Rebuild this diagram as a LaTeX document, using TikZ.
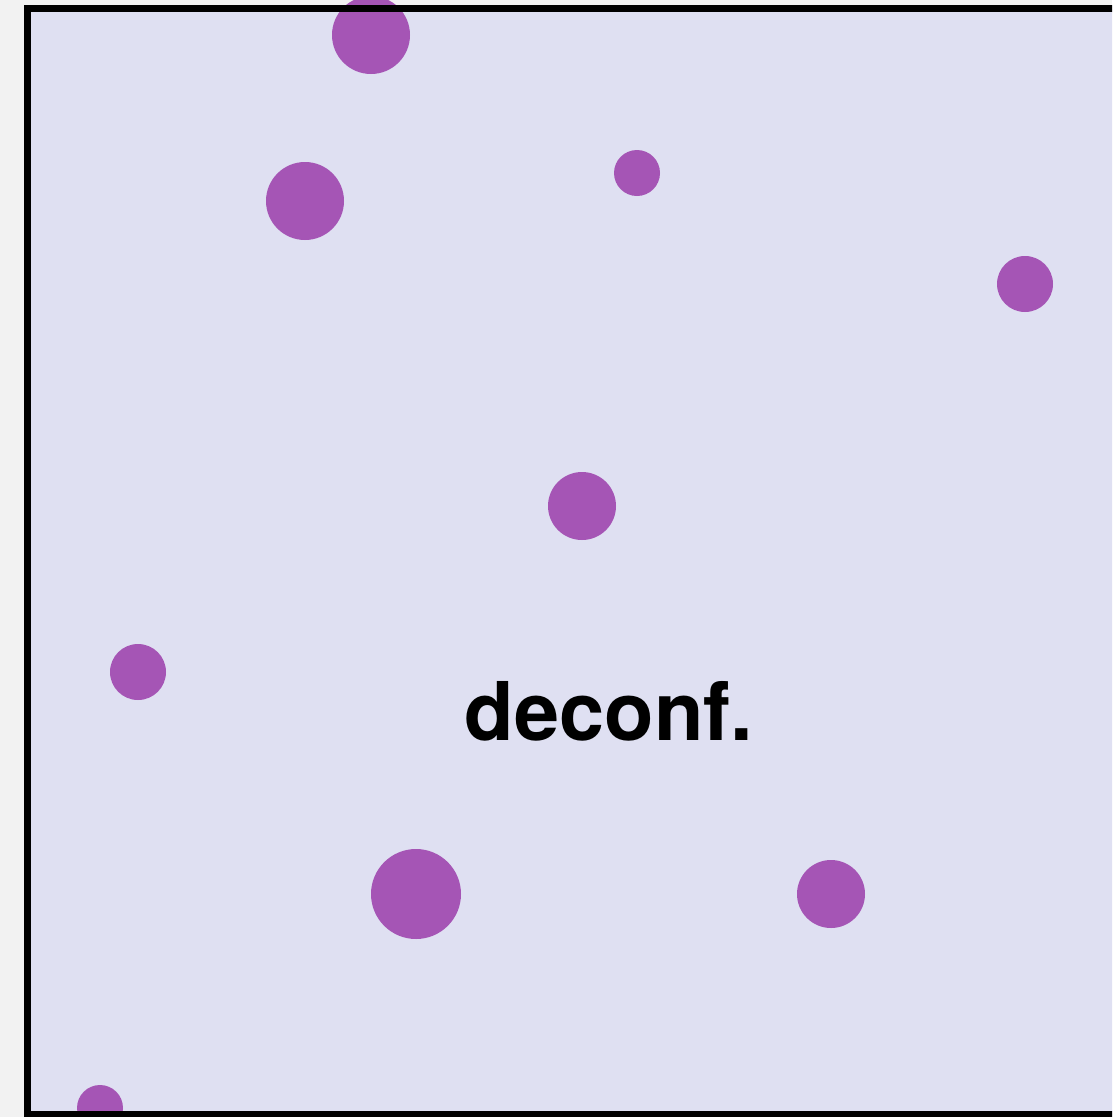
\documentclass[tikz,border=0pt]{standalone}
\usepackage{fontspec}
\setmainfont{TeX Gyre Heros}
\definecolor{pagegray}{RGB}{242,242,242}
\definecolor{boxlavender}{RGB}{223,224,242}
\definecolor{dotpurple}{RGB}{165,85,181}
\usetikzlibrary{positioning}

\begin{document}
\begin{tikzpicture}[x=1pt,y=-1pt,
    frame/.style={draw=black,line width=7pt},
    dot/.style={fill=dotpurple},
    label/.style={font=\fontsize{81}{81}\selectfont\bfseries,text=black,inner sep=0pt,anchor=base}]
    \useasboundingbox (0,0) rectangle (1112,1117);
    \clip (0,0) rectangle (1112,1117);
    \fill[pagegray] (0,0) rectangle (1112,1117);
    \fill[boxlavender] (27,8.5) rectangle (1200,1114.5);
    % particles
    \foreach \cx/\cy/\r in {371/35/39, 305/201/39, 637/173/23, 1025/284/28,
        582/506/34, 138/672/28, 416/894/45, 831/894/34, 100/1108/23}
      \fill[dot] (\cx,\cy) circle[radius=\r];
    \node[label] (phase) at (609,740) {deconf.};
    \draw[frame] (27,8.5) rectangle (1200,1114.5);
  \end{tikzpicture}
\end{document}
